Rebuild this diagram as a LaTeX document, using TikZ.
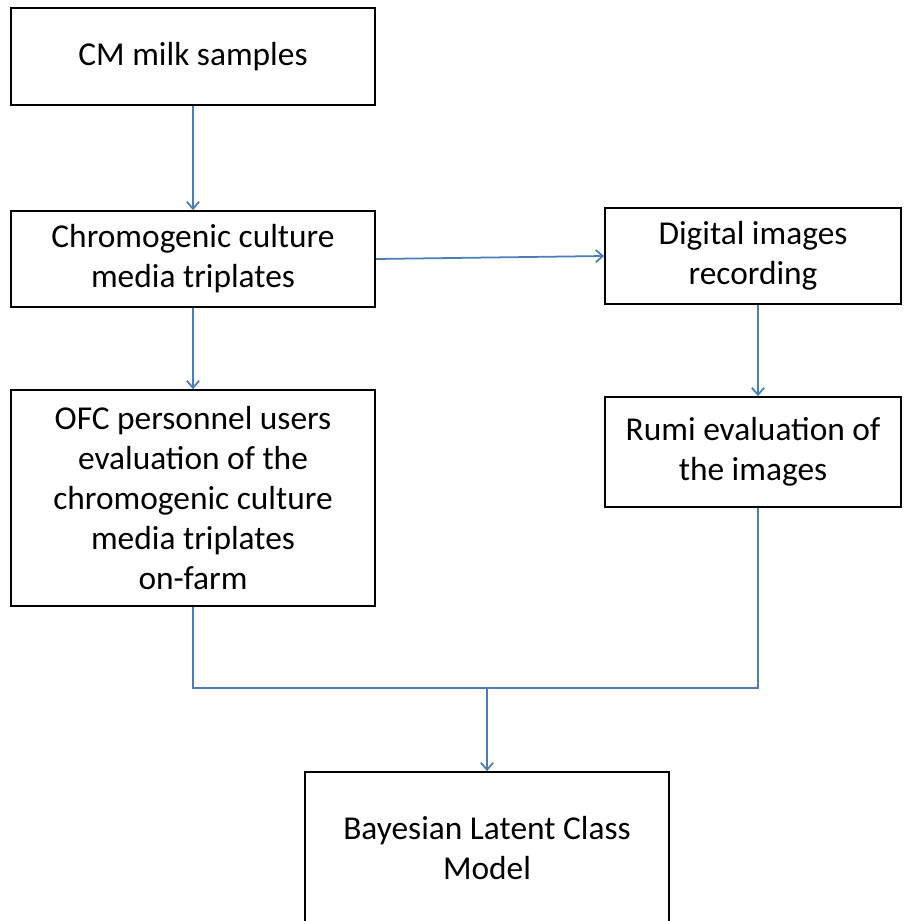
\documentclass[tikz,border=0pt]{standalone}
\usepackage{fontspec}
\setmainfont{Carlito}
\usetikzlibrary{arrows.meta}
\definecolor{lineblue}{HTML}{4A7EBB}

\begin{document}
\begin{tikzpicture}[
	box/.style={draw=black, line width=1pt, align=center, inner sep=0pt,
		font=\fontsize{19}{22.8}\selectfont},
	flow/.style={draw=lineblue, line width=1pt, -{Straight Barb[length=4pt,width=7pt]}},
	link/.style={draw=lineblue, line width=1pt}]
		\clip (0,0) rectangle (18.06,-18.42);
		%Left column
		\node[box, minimum width=7.28cm, minimum height=1.94cm] (milk) at (3.86,-1.13) {CM milk samples};
		\node[box, minimum width=7.28cm, minimum height=1.92cm] (plates) at (3.86,-5.18) {Chromogenic culture\\media triplates};
		\node[box, minimum width=7.28cm, minimum height=4.32cm] (ofc) at (3.86,-9.96) {OFC personnel users\\evaluation of the\\chromogenic culture\\media triplates\\on-farm};
		%Right column
		\node[box, minimum width=5.92cm, minimum height=1.92cm] (digital) at (15.06,-5.12) {Digital images\\recording};
		\node[box, minimum width=5.92cm, minimum height=2.2cm] (rumi) at (15.06,-9.04) {Rumi evaluation of\\the images};
		%Bottom
		\node[box, minimum width=7.28cm, minimum height=3.04cm] (model) at (9.74,-16.96) {Bayesian Latent Class\\Model};
		\coordinate (join) at (9.74,-13.76);
		%Connectors
		\draw[flow] (milk) -- (plates);
		\draw[flow] (plates) -- (ofc);
		\draw[flow] (plates.east) -- (digital.west);
		\draw[flow] ([xshift=0.1cm]digital.south) -- ([xshift=0.1cm]rumi.north);
		\draw[link] (ofc.south) |- (join) -| ([xshift=0.1cm]rumi.south);
		\draw[flow] (join) -- (model);
\end{tikzpicture}
\end{document}
